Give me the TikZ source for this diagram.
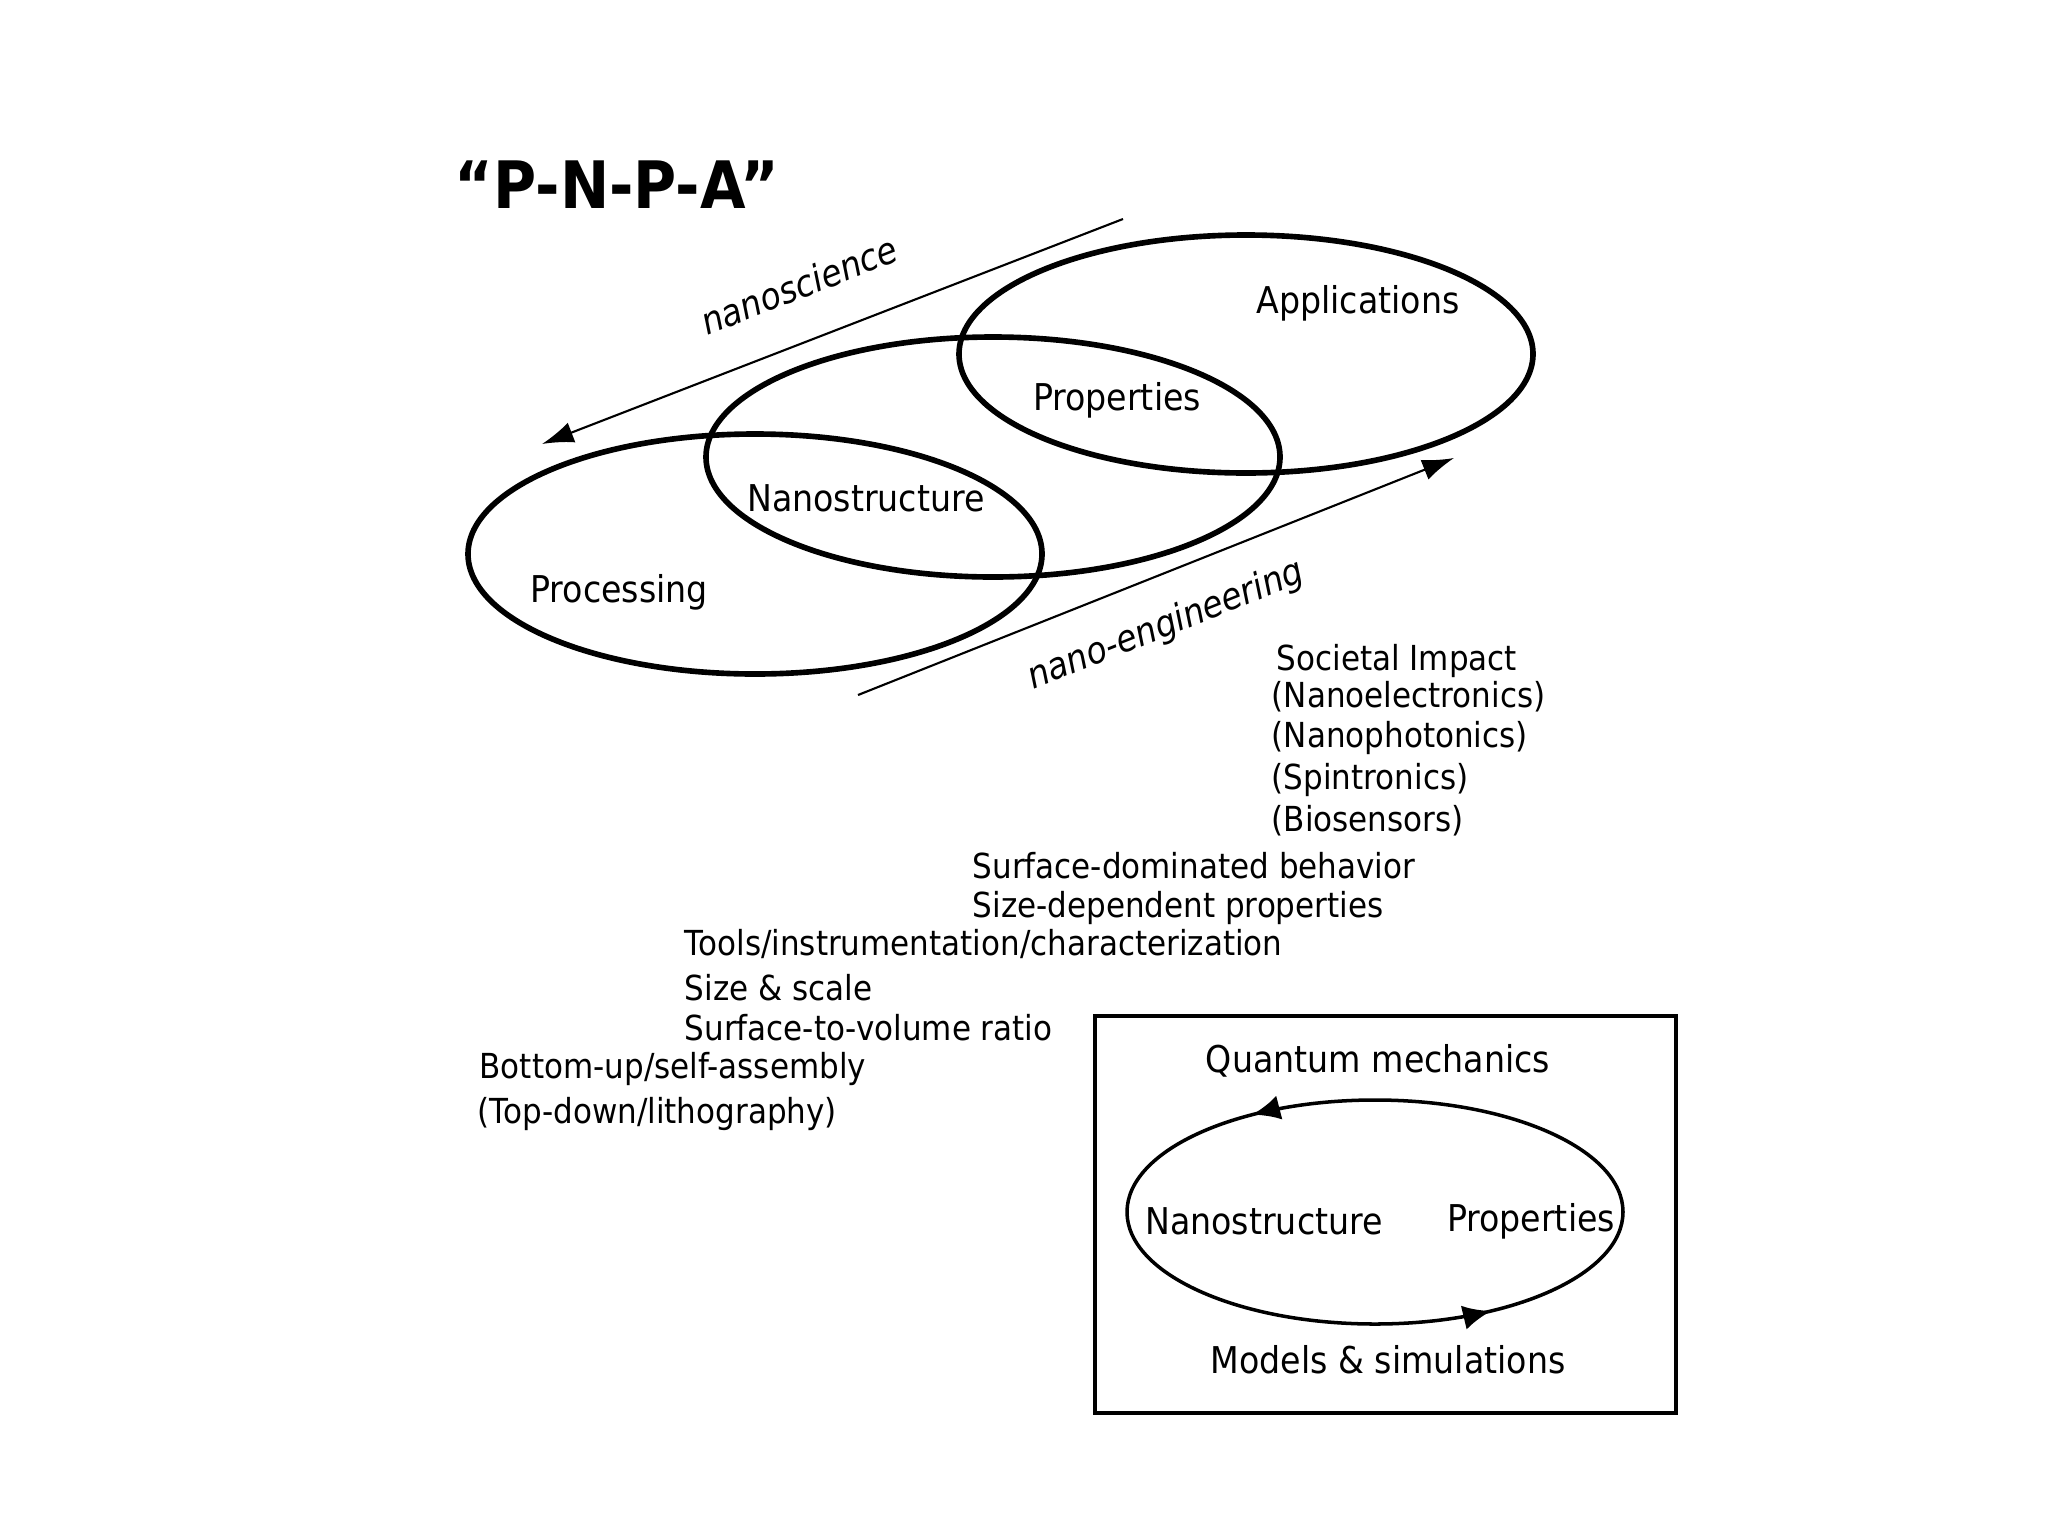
\documentclass[tikz,border=0pt]{standalone}
\usepackage{fontspec}
\setmainfont{DejaVu Sans}[FakeStretch=0.9]
\usetikzlibrary{arrows.meta,decorations.markings}
\begin{document}
\begin{tikzpicture}[x=0.01cm,y=0.01cm,
  lbl/.style={inner sep=0pt,font=\fontsize{10.5}{12}\selectfont},
  item/.style={inner sep=0pt,anchor=west,font=\fontsize{9.8}{12}\selectfont},
  ring/.style={line width=1.6pt},
  thinarrow/.style={line width=0.6pt,-{Latex[length=9pt,width=6pt]}},
  slant/.style={inner sep=0pt,font=\fontsize{10.5}{12}\selectfont\itshape}]
\useasboundingbox (0,0) rectangle (2048,-1536);
% title
\node[inner sep=0pt,font=\fontsize{18.6}{20}\selectfont\bfseries] (title) at (617,-185) {“P-N-P-A”};
% ellipses
\draw[ring] (755,-554) ellipse [x radius=287, y radius=120];
\draw[ring] (993,-457) ellipse [x radius=287, y radius=120];
\draw[ring] (1246,-354) ellipse [x radius=287, y radius=119];
\node[lbl] (app) at (1358,-303) {Applications};
\node[lbl] (prop) at (1117,-400) {Properties};
\node[lbl] (nano) at (866,-498) {Nanostructure};
\node[lbl] (proc) at (619,-592) {Processing};
% nanoscience arrow
\coordinate (ns1) at (1123,-219);
\coordinate (ns2) at (542,-444);
\draw[thinarrow] (ns1) -- (ns2);
\node[slant,rotate=21.5] (nsl) at (799,-285) {nanoscience};
% nano-engineering arrow
\coordinate (ne1) at (858,-695);
\coordinate (ne2) at (1454,-458);
\draw[thinarrow] (ne1) -- (ne2);
\node[slant,rotate=21.7] (nel) at (1166,-626) {nano-engineering};
% lists
\node[item] (s1) at (1276,-661) {Societal Impact};
\node[item] (s2) at (1271,-697) {(Nanoelectronics)};
\node[item] (s3) at (1271,-738) {(Nanophotonics)};
\node[item] (s4) at (1271,-780) {(Spintronics)};
\node[item] (s5) at (1271,-821) {(Biosensors)};
\node[item] (p1) at (972,-866) {Surface-dominated behavior};
\node[item] (p2) at (972,-908) {Size-dependent properties};
\node[item] (n1) at (684,-944) {Tools/instrumentation/characterization};
\node[item] (n2) at (684,-988) {Size \& scale};
\node[item] (n3) at (684,-1028) {Surface-to-volume ratio};
\node[item] (q1) at (479,-1069) {Bottom-up/self-assembly};
\node[item] (q2) at (477,-1114) {(Top-down/lithography)};
% box
\node[draw,line width=1pt,minimum width=5.81cm,minimum height=3.97cm,inner sep=0pt] (frame) at (1385.5,-1214.5) {};
\draw[line width=1pt,postaction={decorate},decoration={markings,
  mark=at position 0.356 with {\arrow{Latex[length=8pt,width=7pt]}},
  mark=at position 0.85 with {\arrow{Latex[length=8pt,width=7pt]}}}]
  (1375,-1212) ellipse [x radius=248, y radius=112];
\node[lbl] (qm) at (1378,-1061) {Quantum mechanics};
\node[lbl] (cn) at (1264,-1221) {Nanostructure};
\node[lbl] (cp) at (1531,-1221) {Properties};
\node[lbl] (ms) at (1388,-1360) {Models \& simulations};
\end{tikzpicture}
\end{document}
